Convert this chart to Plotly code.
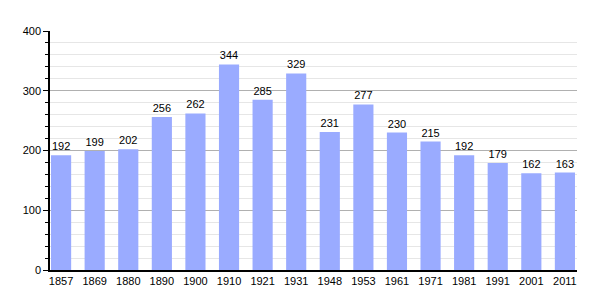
import plotly.graph_objects as go

years = ["1857", "1869", "1880", "1890", "1900", "1910", "1921", "1931",
         "1948", "1953", "1961", "1971", "1981", "1991", "2001", "2011"]
population = [192, 199, 202, 256, 262, 344, 285, 329, 231, 277, 230, 215, 192, 179, 162, 163]

xpos = list(range(len(years)))

fig = go.Figure(go.Bar(
    x=xpos, y=population, width=0.6,
    marker=dict(color="#9aabff", line=dict(width=0)),
    text=[str(v) for v in population], textposition="outside",
    textfont=dict(family="Liberation Sans, Arial", size=11, color="#000"),
    cliponaxis=False,
))

fig.update_layout(
    width=605, height=300,
    margin=dict(l=50, r=28, t=31, b=30),
    paper_bgcolor="white", plot_bgcolor="white",
    font=dict(family="Liberation Sans, Arial", size=11, color="#000"),
    showlegend=False,
    xaxis=dict(
        tickmode="array", tickvals=xpos, ticktext=years,
        range=[-0.33, 15.36], showgrid=False, zeroline=False,
        showline=True, linecolor="#000", linewidth=1.5, ticks="",
    ),
    yaxis=dict(
        range=[0, 400], tickmode="linear", dtick=100,
        showgrid=True, gridcolor="#b0b0b0", gridwidth=1,
        zeroline=False, showline=True, linecolor="#000", linewidth=1.5,
        ticks="outside", ticklen=5, tickcolor="#000",
        minor=dict(dtick=20, showgrid=True, gridcolor="#e6e6e6",
                   ticks="outside", ticklen=3, tickcolor="#000"),
    ),
)

fig.write_html("out.html")
